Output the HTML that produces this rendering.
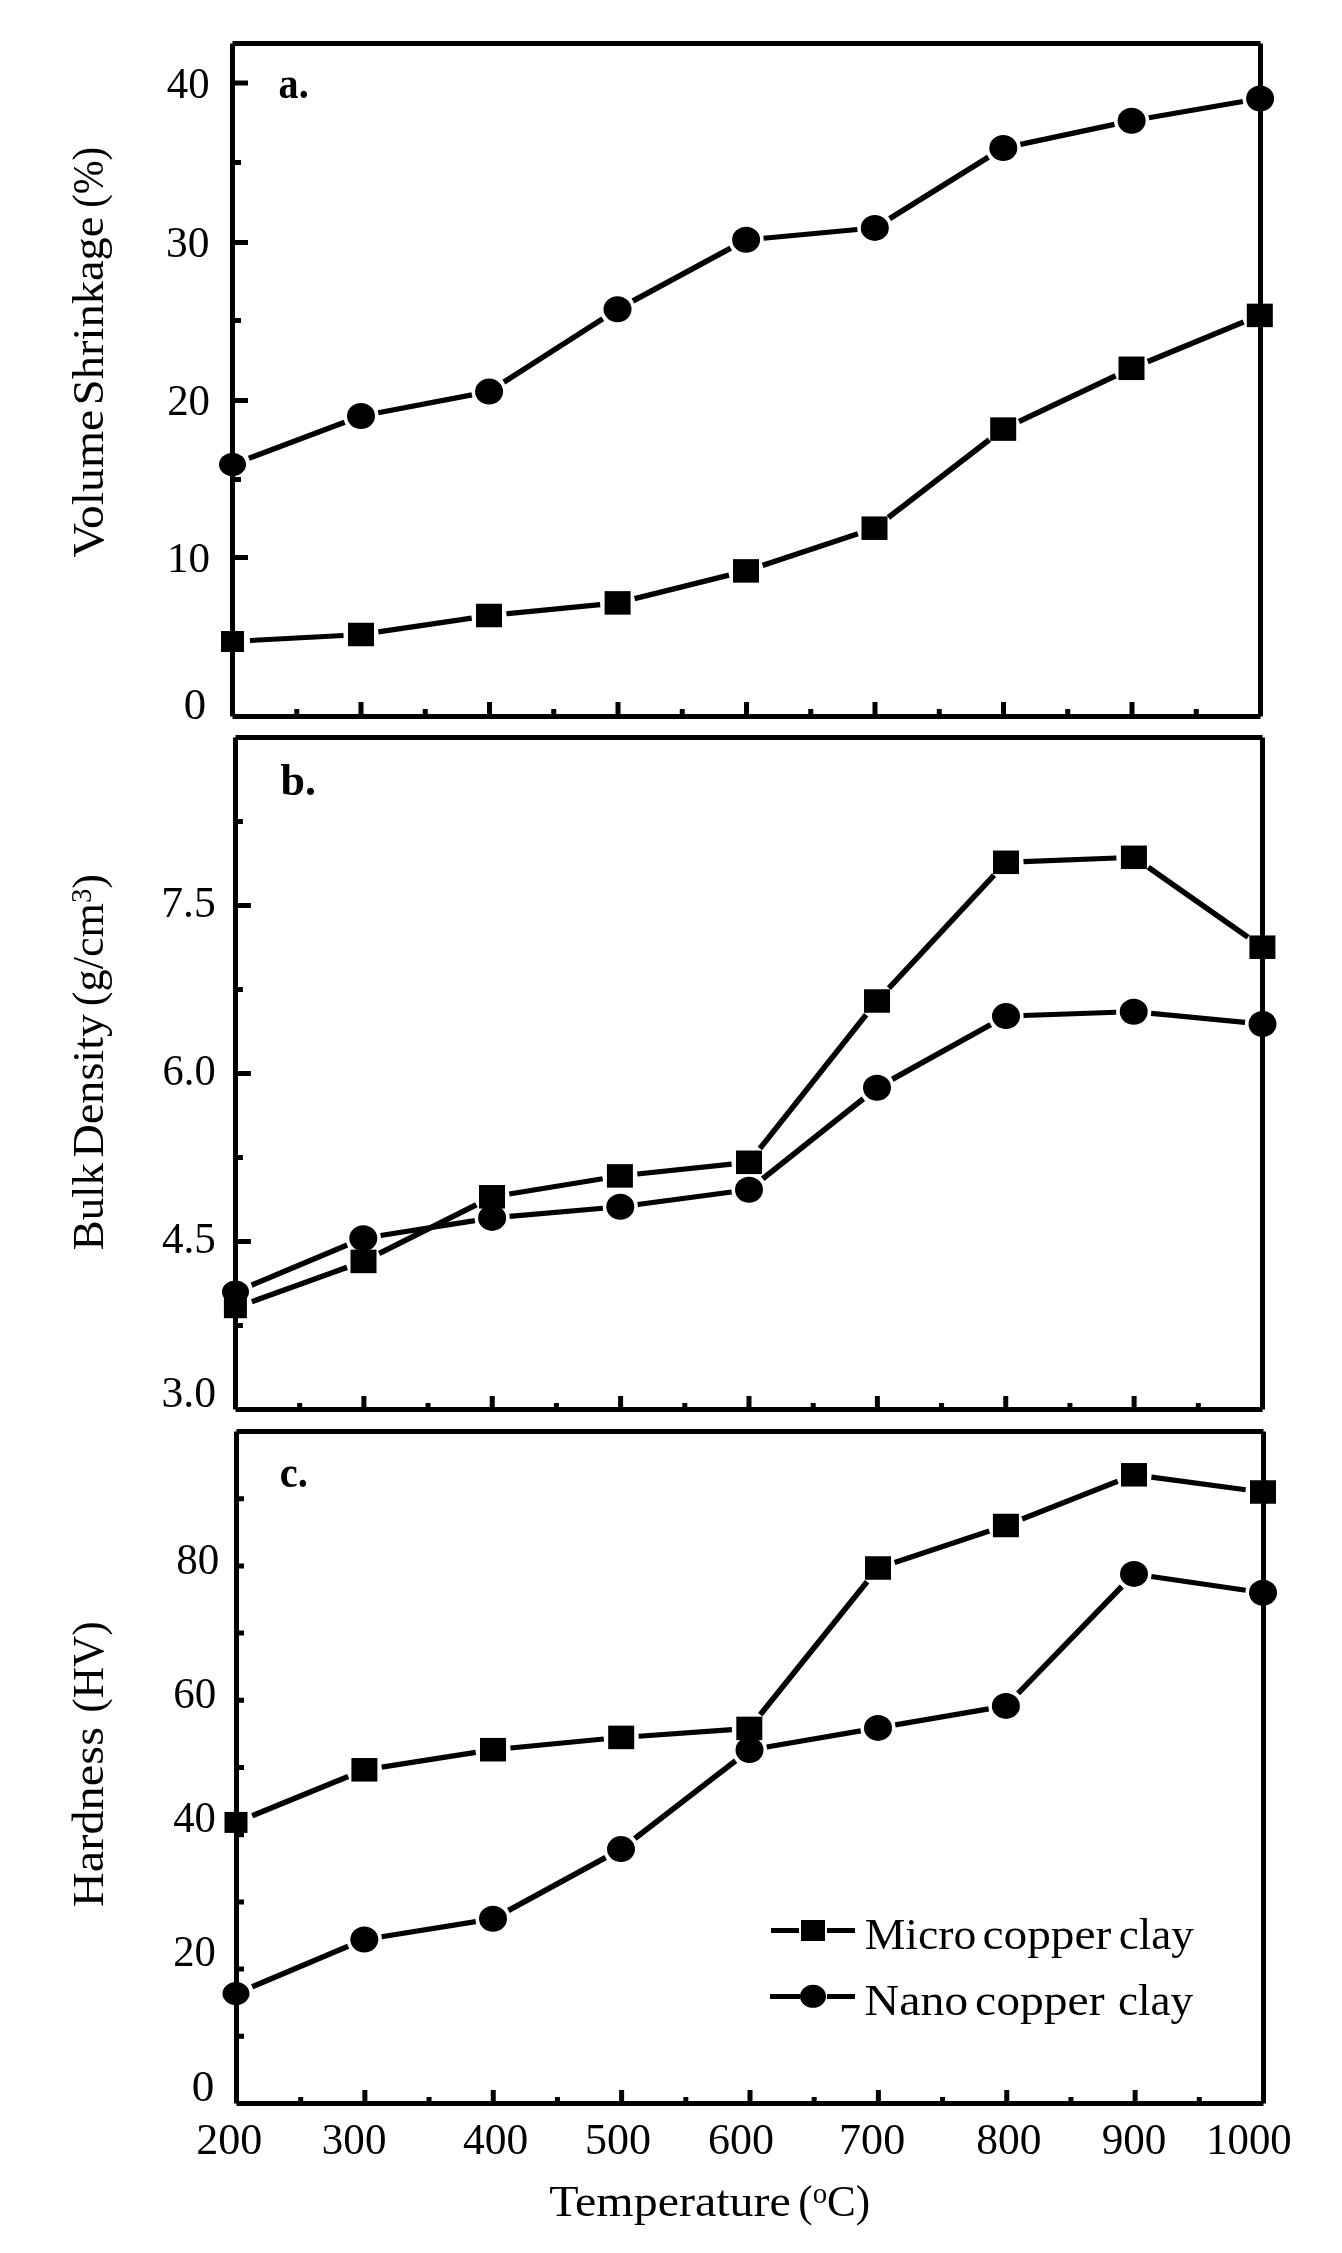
<!DOCTYPE html>
<html><head><meta charset="utf-8"><title>Chart</title>
<style>html,body{margin:0;padding:0;background:#fff;}svg{display:block;filter:grayscale(1);}</style></head>
<body><svg width="1342" height="2253" viewBox="0 0 1342 2253" font-family="'Liberation Serif', serif" font-size="100" fill="#000">
<rect width="1342" height="2253" fill="#fff"/>
<path d="M232.50 43.50H1260.50M1260.50 43.50V716.50M232.50 716.50H1260.50M232.50 43.50V716.50" fill="none" stroke="#000" stroke-width="5.0"/>
<path d="M296.75 716.50V709.00 M361.00 716.50V702.00 M425.25 716.50V709.00 M489.50 716.50V702.00 M553.75 716.50V709.00 M618.00 716.50V702.00 M682.25 716.50V709.00 M746.50 716.50V702.00 M810.75 716.50V709.00 M875.00 716.50V702.00 M939.25 716.50V709.00 M1003.50 716.50V702.00 M1067.75 716.50V709.00 M1132.00 716.50V702.00 M1196.25 716.50V709.00 M232.50 83.00H248.00 M232.50 162.50H241.00 M232.50 242.50H248.00 M232.50 320.50H241.00 M232.50 400.50H248.00 M232.50 479.50H241.00 M232.50 557.50H248.00 M232.50 636.60H241.00" stroke="#000" stroke-width="5.0" fill="none"/>
<path d="M235.50 737.50H1262.50M1262.50 737.50V1409.50M235.50 1409.50H1262.50M235.50 737.50V1409.50" fill="none" stroke="#000" stroke-width="5.0"/>
<path d="M299.69 1409.50V1402.90 M363.88 1409.50V1396.00 M428.06 1409.50V1402.90 M492.25 1409.50V1396.00 M556.44 1409.50V1402.90 M620.62 1409.50V1396.00 M684.81 1409.50V1402.90 M749.00 1409.50V1396.00 M813.19 1409.50V1402.90 M877.38 1409.50V1396.00 M941.56 1409.50V1402.90 M1005.75 1409.50V1396.00 M1069.94 1409.50V1402.90 M1134.12 1409.50V1396.00 M1198.31 1409.50V1402.90 M235.50 1325.50H242.90 M235.50 1241.50H250.90 M235.50 1157.50H242.90 M235.50 1073.50H250.90 M235.50 989.50H242.90 M235.50 905.50H250.90 M235.50 821.50H242.90" stroke="#000" stroke-width="5.0" fill="none"/>
<path d="M236.50 1431.50H1263.50M1263.50 1431.50V2103.50M236.50 2103.50H1263.50M236.50 1431.50V2103.50" fill="none" stroke="#000" stroke-width="5.0"/>
<path d="M300.69 2103.50V2096.90 M364.88 2103.50V2090.00 M429.06 2103.50V2096.90 M493.25 2103.50V2090.00 M557.44 2103.50V2096.90 M621.62 2103.50V2090.00 M685.81 2103.50V2096.90 M750.00 2103.50V2090.00 M814.19 2103.50V2096.90 M878.38 2103.50V2090.00 M942.56 2103.50V2096.90 M1006.75 2103.50V2090.00 M1070.94 2103.50V2096.90 M1135.12 2103.50V2090.00 M1199.31 2103.50V2096.90 M236.50 2036.30H244.00 M236.50 1969.10H244.00 M236.50 1901.90H244.00 M236.50 1834.70H244.00 M236.50 1767.50H244.00 M236.50 1700.30H244.00 M236.50 1633.10H244.00 M236.50 1565.90H244.00 M236.50 1498.70H244.00" stroke="#000" stroke-width="5.0" fill="none"/>
<path d="M248.87 458.32L344.63 422.18" stroke="#000" stroke-width="5.41"/>
<path d="M378.19 412.73L471.91 394.87" stroke="#000" stroke-width="5.22"/>
<path d="M503.83 382.16L602.77 318.74" stroke="#000" stroke-width="5.60"/>
<path d="M632.90 300.98L730.70 248.12" stroke="#000" stroke-width="5.57"/>
<path d="M763.53 238.19L857.37 229.51" stroke="#000" stroke-width="5.11"/>
<path d="M889.66 218.66L988.44 157.24" stroke="#000" stroke-width="5.60"/>
<path d="M1020.42 144.37L1114.48 124.43" stroke="#000" stroke-width="5.24"/>
<path d="M1148.84 117.81L1242.86 101.49" stroke="#000" stroke-width="5.20"/>
<path d="M249.97 640.55L343.53 635.45" stroke="#000" stroke-width="5.06"/>
<path d="M378.31 631.93L471.69 618.07" stroke="#000" stroke-width="5.17"/>
<path d="M506.42 613.79L600.18 604.61" stroke="#000" stroke-width="5.11"/>
<path d="M634.58 598.67L729.02 575.13" stroke="#000" stroke-width="5.28"/>
<path d="M762.61 565.38L857.89 533.72" stroke="#000" stroke-width="5.37"/>
<path d="M888.37 517.52L989.33 439.78" stroke="#000" stroke-width="5.60"/>
<path d="M1019.01 421.61L1115.69 375.79" stroke="#000" stroke-width="5.51"/>
<path d="M1147.68 361.63L1243.62 322.07" stroke="#000" stroke-width="5.45"/>
<path d="M251.63 1285.12L347.17 1244.98" stroke="#000" stroke-width="5.46"/>
<path d="M380.59 1235.48L474.81 1220.62" stroke="#000" stroke-width="5.18"/>
<path d="M509.53 1216.39L602.87 1208.31" stroke="#000" stroke-width="5.10"/>
<path d="M637.65 1204.50L731.65 1192.00" stroke="#000" stroke-width="5.15"/>
<path d="M762.69 1178.80L863.31 1098.70" stroke="#000" stroke-width="5.60"/>
<path d="M892.30 1079.30L990.70 1024.60" stroke="#000" stroke-width="5.58"/>
<path d="M1023.49 1015.50L1116.21 1012.30" stroke="#000" stroke-width="5.04"/>
<path d="M1151.12 1013.36L1245.08 1022.34" stroke="#000" stroke-width="5.11"/>
<path d="M251.86 1301.75L347.04 1267.35" stroke="#000" stroke-width="5.40"/>
<path d="M379.14 1253.54L476.36 1204.66" stroke="#000" stroke-width="5.53"/>
<path d="M509.27 1193.98L602.63 1178.72" stroke="#000" stroke-width="5.19"/>
<path d="M637.30 1174.07L731.60 1164.13" stroke="#000" stroke-width="5.12"/>
<path d="M759.88 1148.59L866.12 1014.71" stroke="#000" stroke-width="5.60"/>
<path d="M888.92 988.19L994.08 875.11" stroke="#000" stroke-width="5.60"/>
<path d="M1023.49 861.62L1116.41 857.98" stroke="#000" stroke-width="5.04"/>
<path d="M1148.24 867.33L1248.06 937.17" stroke="#000" stroke-width="5.60"/>
<path d="M252.13 1986.80L348.17 1946.30" stroke="#000" stroke-width="5.46"/>
<path d="M381.58 1936.72L475.72 1921.58" stroke="#000" stroke-width="5.18"/>
<path d="M508.37 1910.43L605.63 1857.47" stroke="#000" stroke-width="5.57"/>
<path d="M634.86 1838.41L735.64 1760.69" stroke="#000" stroke-width="5.60"/>
<path d="M766.75 1747.03L860.75 1730.87" stroke="#000" stroke-width="5.20"/>
<path d="M895.25 1724.93L988.65 1708.87" stroke="#000" stroke-width="5.20"/>
<path d="M1018.09 1693.34L1121.81 1586.46" stroke="#000" stroke-width="5.60"/>
<path d="M1151.32 1576.44L1245.68 1590.26" stroke="#000" stroke-width="5.17"/>
<path d="M252.19 1815.77L348.21 1776.43" stroke="#000" stroke-width="5.45"/>
<path d="M381.69 1767.10L475.71 1752.40" stroke="#000" stroke-width="5.18"/>
<path d="M510.42 1748.03L603.78 1739.07" stroke="#000" stroke-width="5.11"/>
<path d="M638.66 1736.17L731.84 1729.63" stroke="#000" stroke-width="5.08"/>
<path d="M760.25 1714.75L867.05 1581.65" stroke="#000" stroke-width="5.60"/>
<path d="M894.61 1562.48L989.29 1531.02" stroke="#000" stroke-width="5.37"/>
<path d="M1022.17 1519.06L1117.73 1481.24" stroke="#000" stroke-width="5.43"/>
<path d="M1151.35 1477.11L1245.65 1489.69" stroke="#000" stroke-width="5.15"/>
<rect x="221.00" y="631.00" width="23.0" height="21.0"/>
<rect x="348.00" y="622.75" width="26.0" height="23.5"/>
<rect x="476.00" y="603.75" width="26.0" height="23.5"/>
<rect x="604.60" y="591.15" width="26.0" height="23.5"/>
<rect x="733.00" y="559.15" width="26.0" height="23.5"/>
<rect x="861.50" y="516.45" width="26.0" height="23.5"/>
<rect x="990.20" y="417.35" width="26.0" height="23.5"/>
<rect x="1118.50" y="356.55" width="26.0" height="23.5"/>
<rect x="1246.80" y="303.65" width="26.0" height="23.5"/>
<ellipse cx="232.50" cy="464.50" rx="13.5" ry="11.5"/>
<ellipse cx="361.00" cy="416.00" rx="14.0" ry="13.0"/>
<ellipse cx="489.10" cy="391.60" rx="14.0" ry="13.0"/>
<ellipse cx="617.50" cy="309.30" rx="14.0" ry="13.0"/>
<ellipse cx="746.10" cy="239.80" rx="14.0" ry="13.0"/>
<ellipse cx="874.80" cy="227.90" rx="14.0" ry="13.0"/>
<ellipse cx="1003.30" cy="148.00" rx="14.0" ry="13.0"/>
<ellipse cx="1131.60" cy="120.80" rx="14.0" ry="13.0"/>
<ellipse cx="1260.10" cy="98.50" rx="14.0" ry="13.0"/>
<rect x="223.90" y="1297.20" width="23.0" height="21.0"/>
<rect x="350.50" y="1249.65" width="26.0" height="23.5"/>
<rect x="479.00" y="1185.05" width="26.0" height="23.5"/>
<rect x="606.90" y="1164.15" width="26.0" height="23.5"/>
<rect x="736.00" y="1150.55" width="26.0" height="23.5"/>
<rect x="864.00" y="989.25" width="26.0" height="23.5"/>
<rect x="993.00" y="850.55" width="26.0" height="23.5"/>
<rect x="1120.90" y="845.55" width="26.0" height="23.5"/>
<rect x="1249.40" y="935.45" width="26.0" height="23.5"/>
<ellipse cx="235.50" cy="1291.90" rx="13.5" ry="11.5"/>
<ellipse cx="363.30" cy="1238.20" rx="14.0" ry="13.0"/>
<ellipse cx="492.10" cy="1217.90" rx="14.0" ry="13.0"/>
<ellipse cx="620.30" cy="1206.80" rx="14.0" ry="13.0"/>
<ellipse cx="749.00" cy="1189.70" rx="14.0" ry="13.0"/>
<ellipse cx="877.00" cy="1087.80" rx="14.0" ry="13.0"/>
<ellipse cx="1006.00" cy="1016.10" rx="14.0" ry="13.0"/>
<ellipse cx="1133.70" cy="1011.70" rx="14.0" ry="13.0"/>
<ellipse cx="1262.50" cy="1024.00" rx="14.0" ry="13.0"/>
<rect x="224.50" y="1811.90" width="23.0" height="21.0"/>
<rect x="351.40" y="1758.05" width="26.0" height="23.5"/>
<rect x="480.00" y="1737.95" width="26.0" height="23.5"/>
<rect x="608.20" y="1725.65" width="26.0" height="23.5"/>
<rect x="736.30" y="1716.65" width="26.0" height="23.5"/>
<rect x="865.00" y="1556.25" width="26.0" height="23.5"/>
<rect x="992.90" y="1513.75" width="26.0" height="23.5"/>
<rect x="1121.00" y="1463.05" width="26.0" height="23.5"/>
<rect x="1250.00" y="1480.25" width="26.0" height="23.5"/>
<ellipse cx="236.00" cy="1993.60" rx="13.5" ry="11.5"/>
<ellipse cx="364.30" cy="1939.50" rx="14.0" ry="13.0"/>
<ellipse cx="493.00" cy="1918.80" rx="14.0" ry="13.0"/>
<ellipse cx="621.00" cy="1849.10" rx="14.0" ry="13.0"/>
<ellipse cx="749.50" cy="1750.00" rx="14.0" ry="13.0"/>
<ellipse cx="878.00" cy="1727.90" rx="14.0" ry="13.0"/>
<ellipse cx="1005.90" cy="1705.90" rx="14.0" ry="13.0"/>
<ellipse cx="1134.00" cy="1573.90" rx="14.0" ry="13.0"/>
<ellipse cx="1263.00" cy="1592.80" rx="14.0" ry="13.0"/>
<path d="M771 1930.5H799M827 1930.5H855M770 1996.5H800M827 1996.5H855" stroke="#000" stroke-width="5"/>
<rect x="801" y="1920" width="24" height="21"/>
<ellipse cx="813" cy="1996.3" rx="13" ry="11.5"/>
<text transform="matrix(0.42766,0,0,0.44776,166.84,98.10)" font-weight="normal">40</text>
<text transform="matrix(0.43516,0,0,0.43582,166.12,257.03)" font-weight="normal">30</text>
<text transform="matrix(0.42826,0,0,0.44030,167.19,415.02)" font-weight="normal">20</text>
<text transform="matrix(0.43103,0,0,0.43088,166.92,571.64)" font-weight="normal">10</text>
<text transform="matrix(0.44762,0,0,0.44925,183.71,719.10)" font-weight="normal">0</text>
<text transform="matrix(0.43596,0,0,0.43939,161.25,917.06)" font-weight="normal">7.5</text>
<text transform="matrix(0.42479,0,0,0.44328,162.60,1084.61)" font-weight="normal">6.0</text>
<text transform="matrix(0.43109,0,0,0.45000,161.94,1253.25)" font-weight="normal">4.5</text>
<text transform="matrix(0.43707,0,0,0.44925,161.41,1406.90)" font-weight="normal">3.0</text>
<text transform="matrix(0.43043,0,0,0.44478,176.28,1573.91)" font-weight="normal">80</text>
<text transform="matrix(0.43043,0,0,0.44627,173.18,1708.01)" font-weight="normal">60</text>
<text transform="matrix(0.42660,0,0,0.44328,173.15,1831.91)" font-weight="normal">40</text>
<text transform="matrix(0.42609,0,0,0.44328,173.20,1965.81)" font-weight="normal">20</text>
<text transform="matrix(0.45238,0,0,0.44776,191.79,2101.10)" font-weight="normal">0</text>
<text transform="matrix(0.44085,0,0,0.44328,196.14,2153.81)" font-weight="normal">200</text>
<text transform="matrix(0.43050,0,0,0.44328,321.85,2153.81)" font-weight="normal">300</text>
<text transform="matrix(0.43472,0,0,0.44328,463.03,2153.81)" font-weight="normal">400</text>
<text transform="matrix(0.44071,0,0,0.44328,585.06,2153.81)" font-weight="normal">500</text>
<text transform="matrix(0.44085,0,0,0.44328,707.94,2153.81)" font-weight="normal">600</text>
<text transform="matrix(0.44029,0,0,0.44328,839.12,2153.81)" font-weight="normal">700</text>
<text transform="matrix(0.43451,0,0,0.44328,976.26,2153.81)" font-weight="normal">800</text>
<text transform="matrix(0.43147,0,0,0.44328,1101.71,2153.81)" font-weight="normal">900</text>
<text transform="matrix(0.42781,0,0,0.43676,1206.15,2153.83)" font-weight="normal">1000</text>
<text transform="matrix(0.40147,0,0,0.43750,278.60,98.46)" font-weight="bold">a.</text>
<text transform="matrix(0.44000,0,0,0.44429,280.56,795.46)" font-weight="bold">b.</text>
<text transform="matrix(0.40484,0,0,0.43958,279.79,1486.56)" font-weight="bold">c.</text>
<text transform="matrix(0.45714,0,0,0.45077,864.63,1948.50)" font-weight="normal">Micro</text>
<text transform="matrix(0.47341,0,0,0.45077,982.51,1948.50)" font-weight="normal">copper</text>
<text transform="matrix(0.45062,0,0,0.45077,1118.70,1948.50)" font-weight="normal">clay</text>
<text transform="matrix(0.47905,0,0,0.44615,864.56,2014.50)" font-weight="normal">Nano</text>
<text transform="matrix(0.47603,0,0,0.44615,975.10,2014.50)" font-weight="normal">copper</text>
<text transform="matrix(0.45123,0,0,0.44615,1117.90,2014.50)" font-weight="normal">clay</text>
<text transform="matrix(0.47972,0,0,0.44615,549.14,2215.60)" font-weight="normal">Temperature</text>
<text transform="matrix(0.43101,0,0,0.44615,798.28,2215.60)" font-weight="normal">(<tspan font-size="67" dy="-27.5">o</tspan><tspan dy="27.5">C)</tspan></text>
<text transform="matrix(0,-0.47770,0.44769,0,103.00,557.38)" font-weight="normal">Volume</text>
<text transform="matrix(0,-0.46532,0.44769,0,103.00,405.16)" font-weight="normal">Shrinkage</text>
<text transform="matrix(0,-0.40567,0.44769,0,103.00,207.72)" font-weight="normal">(%)</text>
<text transform="matrix(0,-0.44869,0.43692,0,102.60,1250.25)" font-weight="normal">Bulk</text>
<text transform="matrix(0,-0.46104,0.43692,0,102.60,1157.38)" font-weight="normal">Density</text>
<text transform="matrix(0,-0.44192,0.43692,0,102.60,1006.17)" font-weight="normal">(g/cm<tspan font-size="65" dy="-27">3</tspan><tspan dy="27">)</tspan></text>
<text transform="matrix(0,-0.48415,0.43692,0,102.60,1907.15)" font-weight="normal">Hardness</text>
<text transform="matrix(0,-0.43300,0.43692,0,102.60,1712.63)" font-weight="normal">(HV)</text>
</svg></body></html>
